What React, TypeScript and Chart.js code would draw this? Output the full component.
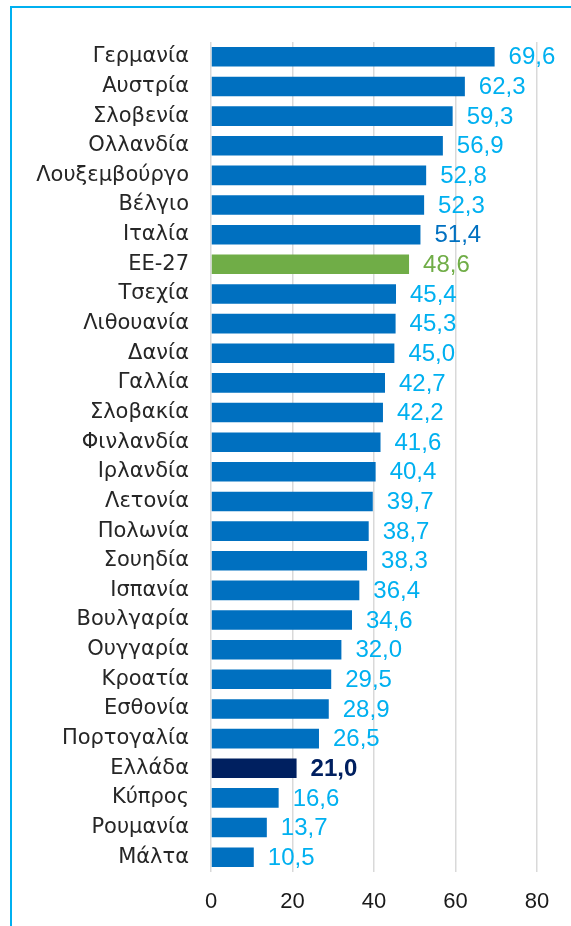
import React, { useEffect, useRef } from "react";
import { Chart, registerables } from "chart.js";

Chart.register(...registerables);

const categories: string[] = [
  "Γερμανία", "Αυστρία", "Σλοβενία", "Ολλανδία", "Λουξεμβούργο", "Βέλγιο", "Ιταλία",
  "ΕΕ-27", "Τσεχία", "Λιθουανία", "Δανία", "Γαλλία", "Σλοβακία", "Φινλανδία",
  "Ιρλανδία", "Λετονία", "Πολωνία", "Σουηδία", "Ισπανία", "Βουλγαρία", "Ουγγαρία",
  "Κροατία", "Εσθονία", "Πορτογαλία", "Ελλάδα", "Κύπρος", "Ρουμανία", "Μάλτα",
];

const values: number[] = [
  69.6, 62.3, 59.3, 56.9, 52.8, 52.3, 51.4,
  48.6, 45.4, 45.3, 45.0, 42.7, 42.2, 41.6,
  40.4, 39.7, 38.7, 38.3, 36.4, 34.6, 32.0,
  29.5, 28.9, 26.5, 21.0, 16.6, 13.7, 10.5,
];

const xTicks: number[] = [0, 20, 40, 60, 80];

const FONT = "'Liberation Sans', Arial, sans-serif";
const CAT_FONT = "'DejaVu Sans', sans-serif";
const BLUE = "#0070c0";
const GREEN = "#70ad47";
const NAVY = "#002060";
const LABEL_BLUE = "#00b0f0";

function barColor(cat: string): string {
  if (cat === "ΕΕ-27") return GREEN;
  if (cat === "Ελλάδα") return NAVY;
  return BLUE;
}

function labelColor(cat: string): string {
  if (cat === "ΕΕ-27") return GREEN;
  if (cat === "Ελλάδα") return NAVY;
  if (cat === "Ιταλία") return BLUE;
  return LABEL_BLUE;
}

const valueLabelPlugin = {
  id: "valueLabels",
  afterDatasetsDraw(chart: any) {
    const ctx = chart.ctx;
    const meta = chart.getDatasetMeta(0);
    ctx.save();
    ctx.textAlign = "left";
    ctx.textBaseline = "middle";
    meta.data.forEach((el: any, i: number) => {
      const cat = categories[i];
      const bold = cat === "Ελλάδα";
      ctx.font = `${bold ? "bold " : ""}24px ${FONT}`;
      ctx.fillStyle = labelColor(cat);
      const txt = values[i].toFixed(1).replace(".", ",");
      ctx.fillText(txt, el.x + 14, el.y + 1);
    });
    ctx.restore();
  },
};

export default function App() {
  const ref = useRef<HTMLCanvasElement | null>(null);

  useEffect(() => {
    if (!ref.current) return;
    const chart = new Chart(ref.current, {
      type: "bar",
      data: {
        labels: categories,
        datasets: [
          {
            data: values,
            backgroundColor: categories.map(barColor),
            borderWidth: 0,
            barPercentage: 0.66,
            categoryPercentage: 1,
          },
        ],
      },
      options: {
        indexAxis: "y",
        responsive: false,
        animation: false,
        layout: { padding: { left: 0, top: 42, right: 34, bottom: 0 } },
        plugins: {
          legend: { display: false },
          tooltip: { enabled: false },
        },
        scales: {
          x: {
            min: 0,
            max: 80,
            afterBuildTicks: (scale: any) => {
              scale.ticks = xTicks.map((v) => ({ value: v }));
            },
            afterFit: (scale: any) => {
              scale.height = 54;
            },
            grid: { color: "#d9d9d9", lineWidth: 1.5, drawTicks: false },
            border: { display: false },
            ticks: {
              color: "#1a1a1a",
              font: { family: FONT, size: 22 },
              padding: 17,
              maxRotation: 0,
            },
          },
          y: {
            afterFit: (scale: any) => {
              scale.width = 211;
            },
            grid: { display: false, drawTicks: false },
            border: { display: false },
            ticks: {
              color: "#262626",
              font: { family: CAT_FONT, size: 21 },
              padding: 22,
              autoSkip: false,
            },
          },
        },
      },
      plugins: [valueLabelPlugin],
    });
    return () => chart.destroy();
  }, []);

  return (
    <div
      style={{
        position: "fixed",
        left: 0,
        top: 0,
        width: 571,
        height: 926,
        overflow: "hidden",
        background: "#ffffff",
      }}
    >
      <div
        style={{
          position: "absolute",
          left: 10,
          top: 6,
          width: 620,
          height: 980,
          border: "2px solid #00b0f0",
          boxSizing: "border-box",
        }}
      />
      <canvas
        ref={ref}
        width={571}
        height={926}
        style={{ position: "absolute", left: 0, top: 0, width: 571, height: 926 }}
      />
    </div>
  );
}
